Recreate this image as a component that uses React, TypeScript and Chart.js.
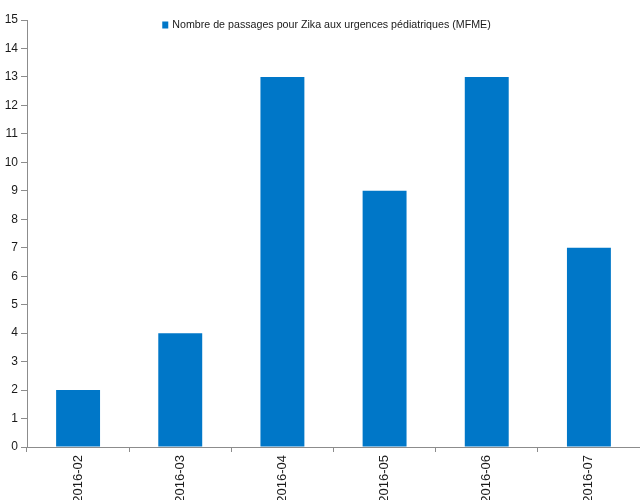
import React, { useEffect, useRef } from "react";
import { Chart, registerables } from "chart.js";

Chart.register(...registerables);

const categories = ["2016-02", "2016-03", "2016-04", "2016-05", "2016-06", "2016-07"];
const passages = [2, 4, 13, 9, 13, 7];
const seriesLabel = "Nombre de passages pour Zika aux urgences pédiatriques (MFME)";
const yTicks = [0, 1, 2, 3, 4, 5, 6, 7, 8, 9, 10, 11, 12, 13, 14, 15];

const FONT = "'Liberation Sans', Arial, sans-serif";
const BAR_COLOR = "#0077c8";
const TEXT_COLOR = "#1a1a1a";
const AXIS_COLOR = "#8c8c8c";

const innerLegend = {
  id: "innerLegend",
  afterDraw(chart: any) {
    const { ctx, chartArea } = chart;
    const ds = chart.data.datasets[0];
    ctx.save();
    ctx.font = `11px ${FONT}`;
    const text = ds.label as string;
    const sx = 0.97;
    const tw = ctx.measureText(text).width * sx;
    const box = 7;
    const gap = 3;
    const total = box + gap + tw;
    const cx = (chartArea.left + chartArea.right) / 2 - 7;
    const x0 = cx - total / 2;
    const y = 25;
    ctx.fillStyle = ds.backgroundColor;
    ctx.fillRect(x0, y - box / 2, box - 1, box);
    ctx.fillStyle = TEXT_COLOR;
    ctx.textBaseline = "middle";
    ctx.textAlign = "left";
    ctx.translate(x0 + box + gap, y);
    ctx.scale(sx, 1);
    ctx.fillText(text, 0, 0);
    ctx.restore();
  },
};

export default function App() {
  const ref = useRef<HTMLCanvasElement | null>(null);

  useEffect(() => {
    document.body.style.margin = "0";
    const canvas = ref.current;
    if (!canvas) return;
    const chart = new Chart(canvas, {
      type: "bar",
      data: {
        labels: categories,
        datasets: [
          {
            label: seriesLabel,
            data: passages,
            backgroundColor: BAR_COLOR,
            borderWidth: 0,
            barPercentage: 0.43,
            categoryPercentage: 1,
          },
        ],
      },
      options: {
        animation: false,
        responsive: true,
        maintainAspectRatio: false,
        devicePixelRatio: 1,
        layout: { padding: { top: 20, left: 0, right: 0, bottom: 0 } },
        plugins: {
          legend: { display: false },
          tooltip: { enabled: false },
        },
        scales: {
          x: {
            offset: true,
            grid: {
              display: true,
              offset: true,
              drawOnChartArea: false,
              drawTicks: true,
              tickLength: 5,
              color: AXIS_COLOR,
            },
            border: { display: true, color: AXIS_COLOR, width: 1 },
            ticks: {
              minRotation: 90,
              maxRotation: 90,
              autoSkip: false,
              padding: 3,
              color: TEXT_COLOR,
              font: { family: FONT, size: 13 },
            },
            afterFit(scale: any) {
              scale.height = 53;
            },
          },
          y: {
            min: 0,
            max: 15,
            afterBuildTicks(scale: any) {
              scale.ticks = yTicks.map((v) => ({ value: v }));
            },
            grid: {
              display: true,
              drawOnChartArea: false,
              drawTicks: true,
              tickLength: 6,
              color: AXIS_COLOR,
            },
            border: { display: true, color: AXIS_COLOR, width: 1 },
            ticks: {
              stepSize: 1,
              padding: 3,
              color: TEXT_COLOR,
              font: { family: FONT, size: 12 },
            },
            afterFit(scale: any) {
              scale.width = 27;
            },
          },
        },
      },
      plugins: [innerLegend],
    });
    return () => chart.destroy();
  }, []);

  return (
    <div style={{ position: "fixed", left: 0, top: 0, width: 640, height: 500, background: "#fff" }}>
      <canvas ref={ref} />
    </div>
  );
}
